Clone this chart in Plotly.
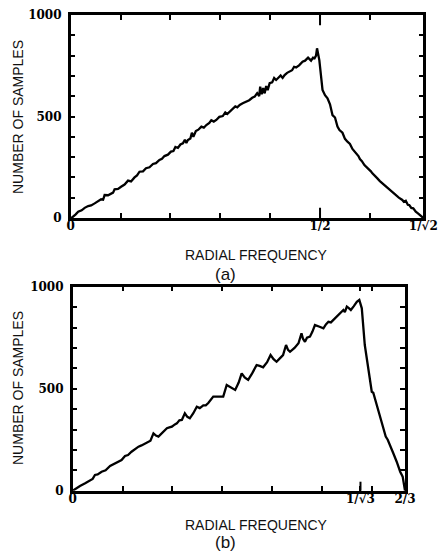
import math
import plotly.graph_objects as go

# ---------------- data ----------------
freq_a = [0.0, 0.003, 0.010, 0.015, 0.022, 0.028, 0.035, 0.041, 0.048, 0.054,
          0.061, 0.065, 0.068, 0.075, 0.081, 0.085, 0.088, 0.095, 0.101, 0.108,
          0.115, 0.121, 0.128, 0.133, 0.138, 0.145, 0.151, 0.158, 0.165, 0.171,
          0.178, 0.183, 0.188, 0.195, 0.201, 0.206, 0.210, 0.215, 0.220, 0.225,
          0.229, 0.232, 0.235, 0.240, 0.243, 0.246, 0.251, 0.256, 0.262, 0.267,
          0.272, 0.278, 0.282, 0.287, 0.292, 0.298, 0.305, 0.310, 0.314, 0.319,
          0.325, 0.330, 0.334, 0.339, 0.345, 0.352, 0.358, 0.364, 0.369, 0.374,
          0.378, 0.380, 0.383, 0.386, 0.389, 0.392, 0.395, 0.399, 0.404, 0.408,
          0.412, 0.417, 0.421, 0.425, 0.429, 0.434, 0.439, 0.444, 0.448, 0.452,
          0.458, 0.465, 0.470, 0.476, 0.482, 0.486, 0.489, 0.492, 0.494, 0.4986,
          0.505, 0.510, 0.515, 0.520, 0.525, 0.530, 0.535, 0.539, 0.545, 0.550,
          0.555, 0.560, 0.565, 0.572, 0.577, 0.580, 0.584, 0.589, 0.594, 0.598,
          0.602, 0.605, 0.610, 0.615, 0.620, 0.625, 0.632, 0.638, 0.645, 0.652,
          0.658, 0.665, 0.668, 0.672, 0.676, 0.679, 0.683, 0.687, 0.692, 0.697,
          0.702, 0.7071]
count_a = [0, 3, 18, 31, 38, 50, 59, 62, 72, 80,
           92, 90, 113, 112, 118, 125, 141, 143, 154, 165,
           184, 180, 200, 210, 228, 230, 245, 250, 266, 270,
           286, 292, 305, 312, 327, 330, 350, 345, 362, 368,
           385, 370, 384, 392, 420, 400, 428, 435, 450, 445,
           458, 468, 482, 475, 483, 498, 502, 520, 512, 524,
           535, 550, 545, 557, 565, 573, 580, 592, 598, 615,
           600, 647, 610, 640, 614, 650, 630, 664, 668, 690,
           680, 692, 702, 690, 704, 715, 721, 728, 745, 742,
           752, 770, 775, 790, 775, 790, 787, 800, 836, 778,
           631, 605, 590, 560, 507, 495, 450, 433, 420, 390,
           376, 365, 340, 319, 305, 290, 280, 261, 250, 238,
           230, 220, 205, 195, 182, 171, 158, 145, 130, 115,
           100, 89, 80, 85, 65, 64, 50, 48, 31, 22,
           10, 0]

freq_b = [0.0, 0.006, 0.0146, 0.025, 0.0347, 0.040, 0.0447, 0.050, 0.058, 0.066,
          0.075, 0.083, 0.0915, 0.098, 0.105, 0.111, 0.118, 0.125, 0.132, 0.138,
          0.145, 0.150, 0.156, 0.162, 0.167, 0.172, 0.180, 0.189, 0.194, 0.199,
          0.205, 0.209, 0.214, 0.219, 0.225, 0.230, 0.235, 0.242, 0.249, 0.255,
          0.262, 0.267, 0.272, 0.277, 0.282, 0.292, 0.302, 0.309, 0.318, 0.326,
          0.333, 0.339, 0.345, 0.352, 0.360, 0.369, 0.375, 0.382, 0.390, 0.397,
          0.403, 0.409, 0.416, 0.422, 0.428, 0.432, 0.436, 0.445, 0.453, 0.459,
          0.462, 0.466, 0.470, 0.476, 0.481, 0.486, 0.494, 0.503, 0.508, 0.513,
          0.518, 0.523, 0.528, 0.533, 0.538, 0.543, 0.546, 0.550, 0.554, 0.558,
          0.564, 0.570, 0.575, 0.580, 0.586, 0.593, 0.600, 0.603, 0.606, 0.611,
          0.616, 0.622, 0.628, 0.632, 0.637, 0.643, 0.650, 0.654, 0.657, 0.662,
          0.665, 0.6667]
count_b = [0, 10, 23, 36, 52, 58, 77, 80, 93, 100,
           121, 130, 142, 150, 170, 175, 191, 205, 216, 222,
           232, 238, 245, 281, 270, 265, 285, 306, 310, 314,
           325, 330, 345, 347, 379, 362, 355, 380, 412, 405,
           418, 418, 430, 445, 461, 461, 461, 518, 505, 494,
           530, 575, 555, 543, 575, 616, 612, 605, 630, 665,
           645, 632, 650, 665, 714, 690, 681, 700, 723, 772,
           745, 730, 750, 755, 780, 812, 805, 796, 815, 828,
           825, 837, 850, 861, 870, 886, 875, 902, 895, 886,
           905, 926, 935, 894, 714, 600, 485, 480, 453, 420,
           371, 320, 265, 250, 224, 185, 142, 110, 93, 69,
           28, 0]

# tick definitions (all tick positions; labels only at the named ones)
y_ticks = [0, 100, 200, 300, 400, 500, 600, 700, 800, 900, 1000]
y_labels = ["0", "", "", "", "", "500", "", "", "", "", "1000"]

xa_ticks = [0, 0.1, 0.2, 0.3, 0.4, 0.5, 0.6, 1 / math.sqrt(2)]
xa_labels = ["0", "", "", "", "", "1/2", "", "1/√2"]
xa_long = [0.5]

xb_ticks = [0, 0.1, 0.2, 0.3, 0.4, 0.5, 1 / math.sqrt(3), 0.6, 2 / 3]
xb_labels = ["0", "", "", "", "", "", "1/√3", "", "2/3"]
xb_long = [1 / math.sqrt(3)]

xa_range = [0, 1 / math.sqrt(2)]
xb_range = [0, 2 / 3]
y_range = [0, 1000]

# ---------------- figure ----------------
W, H = 442, 556
line_style = dict(color="black", width=2.3)

fig = go.Figure()
fig.add_trace(go.Scatter(x=freq_a, y=count_a, mode="lines", line=line_style,
                         xaxis="x", yaxis="y", showlegend=False, hoverinfo="skip"))
fig.add_trace(go.Scatter(x=freq_b, y=count_b, mode="lines", line=line_style,
                         xaxis="x2", yaxis="y2", showlegend=False, hoverinfo="skip"))

tick_font = dict(family="DejaVu Serif", size=12, color="black", weight="bold")


def xaxis(domain, anchor, rng, vals, text):
    return dict(domain=domain, anchor=anchor, range=rng,
                showline=True, linewidth=2.5, linecolor="black", mirror="ticks",
                ticks="inside", ticklen=5, tickwidth=2, tickcolor="black",
                tickmode="array", tickvals=vals, ticktext=text, tickfont=tick_font,
                ticklabelstandoff=-5,
                showgrid=False, zeroline=False, fixedrange=True)


def yaxis(domain, anchor):
    return dict(domain=domain, anchor=anchor, range=y_range,
                showline=True, linewidth=2.5, linecolor="black", mirror="ticks",
                ticks="inside", ticklen=5, tickwidth=2, tickcolor="black",
                tickmode="array", tickvals=y_ticks, ticktext=y_labels,
                tickfont=tick_font, ticklabelstandoff=4,
                showgrid=False, zeroline=False, fixedrange=True)


def px_x(p):
    return p / W


def px_y(p):
    return 1 - p / H


fig.update_layout(
    width=W, height=H, margin=dict(l=0, r=0, t=0, b=0, autoexpand=False),
    paper_bgcolor="white", plot_bgcolor="white",
    xaxis=xaxis([px_x(70.7), px_x(423.3)], "y", xa_range, xa_ticks, xa_labels),
    yaxis=yaxis([px_y(218), px_y(15)], "x"),
    xaxis2=xaxis([px_x(72.7), px_x(405)], "y2", xb_range, xb_ticks, xb_labels),
    yaxis2=yaxis([px_y(490.7), px_y(286.7)], "x2"),
)

# longer ticks at the special frequencies
shapes = []
for v in xa_long:  # panel (a): bottom and top edges, solid
    for y0, y1 in ((0, 0.05), (0.95, 1)):
        shapes.append(dict(type="line", xref="x", yref="y domain", x0=v, x1=v,
                           y0=y0, y1=y1, line=dict(color="black", width=2)))
for v in xb_long:  # panel (b): bottom edge, dashed
    shapes.append(dict(type="line", xref="x2", yref="y2 domain", x0=v, x1=v,
                       y0=0, y1=0.06, line=dict(color="black", width=2, dash="dash")))
fig.update_layout(shapes=shapes)

title_font = dict(family="Liberation Sans", size=14, color="#111")
label_font = dict(family="Liberation Sans", size=17, color="#111")

annotations = [
    dict(text="NUMBER OF SAMPLES", x=px_x(18), y=px_y(117), textangle=-90, font=title_font),
    dict(text="RADIAL FREQUENCY", x=px_x(256), y=px_y(255), font=title_font),
    dict(text="(a)", x=px_x(225), y=px_y(274), font=label_font),
    dict(text="NUMBER OF SAMPLES", x=px_x(18), y=px_y(388), textangle=-90, font=title_font),
    dict(text="RADIAL FREQUENCY", x=px_x(256), y=px_y(524.5), font=title_font),
    dict(text="(b)", x=px_x(226), y=px_y(542), font=label_font),
]
for a in annotations:
    a.update(xref="paper", yref="paper", showarrow=False, xanchor="center",
             yanchor="middle", borderpad=0)
fig.update_layout(annotations=annotations)

fig.write_html("out.html")
